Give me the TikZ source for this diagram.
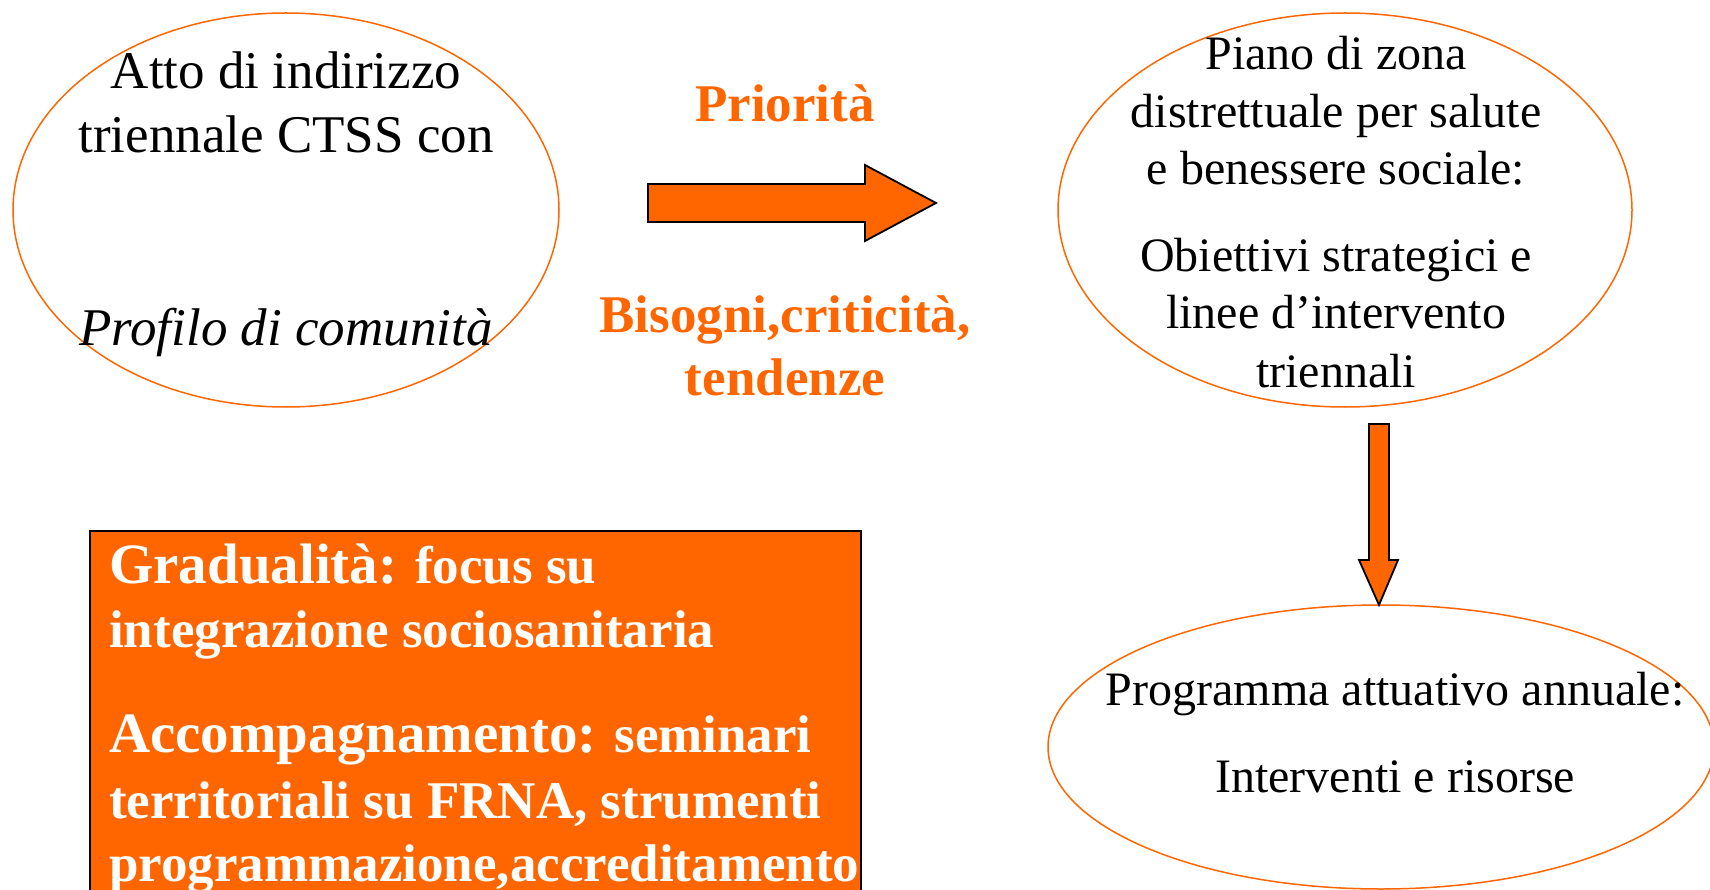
\documentclass[tikz,border=0pt]{standalone}
\usepackage{fontspec}
\setmainfont{Liberation Serif}
\usetikzlibrary{shapes.geometric}
\definecolor{arancio}{HTML}{FF6600}

\begin{document}
\begin{tikzpicture}[x=1pt,y=-1pt,
    bolla/.style={draw=arancio, line width=1.5pt, ellipse, inner sep=0pt},
    testo/.style={anchor=base, inner sep=0pt, font=\fontsize{48}{58}\selectfont},
    testogr/.style={anchor=base, inner sep=0pt, font=\fontsize{53}{64}\selectfont},
    titolo/.style={anchor=base, inner sep=0pt, text=arancio, font=\fontsize{53}{64}\selectfont\bfseries},
    riga/.style={anchor=base west, inner sep=0pt, text=white, font=\fontsize{53}{64}\selectfont\bfseries},
    freccia/.style={fill=arancio, draw=black, line width=1.8pt, line join=miter}]
      \useasboundingbox (0,0) rectangle (1710,890);
      % ellissi
      \node (atto) at (286,210) [bolla, minimum width=546, minimum height=394] {};
      \node (piano) at (1345,210) [bolla, minimum width=574, minimum height=394] {};
      \node (progr) at (1381,747) [bolla, minimum width=666, minimum height=284] {};
      \node (box) at (89,530) [anchor=north west, fill=arancio, draw=black, line width=1.5pt, minimum width=771, minimum height=400] {};
      % frecce
      \draw[freccia] (648,184) -- (865,184) -- (865,165) -- (936,203) -- (865,241) -- (865,222) -- (648,222) -- cycle;
      \draw[freccia] (1369,424) -- (1389,424) -- (1389,560) -- (1398,560) -- (1379,605) -- (1359,560) -- (1369,560) -- cycle;
      % testi
      \node (a1) at (286,89) [testogr] {Atto di indirizzo};
      \node (a2) at (286,153) [testogr] {triennale CTSS con};
      \node (a3) at (286,345) [testogr] {\itshape Profilo di comunità};
      \node (p1) at (1336,70) [testo] {Piano di zona};
      \node (p2) at (1336,128) [testo] {distrettuale per salute};
      \node (p3) at (1336,185) [testo] {e benessere sociale:};
      \node (p4) at (1336,272) [testo] {Obiettivi strategici e};
      \node (p5) at (1336,329) [testo] {linee d’intervento};
      \node (p6) at (1336,387) [testo] {triennali};
      \node (r1) at (1395,705) [testo] {Programma attuativo annuale:};
      \node (r2) at (1395,792) [testo] {Interventi e risorse};
      \node (prio) at (785,122) [titolo] {Priorità};
      \node (bis1) at (785,333) [titolo] {Bisogni,criticità,};
      \node (bis2) at (785,395) [titolo] {tendenze};
      \node (g1) at (109,583) [riga] {{\fontsize{57}{68}\selectfont Gradualità:} focus su};
      \node (g2) at (109,647) [riga] {integrazione sociosanitaria};
      \node (g3) at (109,752) [riga] {{\fontsize{57}{68}\selectfont Accompagnamento:} seminari};
      \node (g4) at (109,818) [riga] {territoriali su FRNA, strumenti};
      \node (g5) at (109,881) [riga] {programmazione,accreditamento};
\end{tikzpicture}
\end{document}
